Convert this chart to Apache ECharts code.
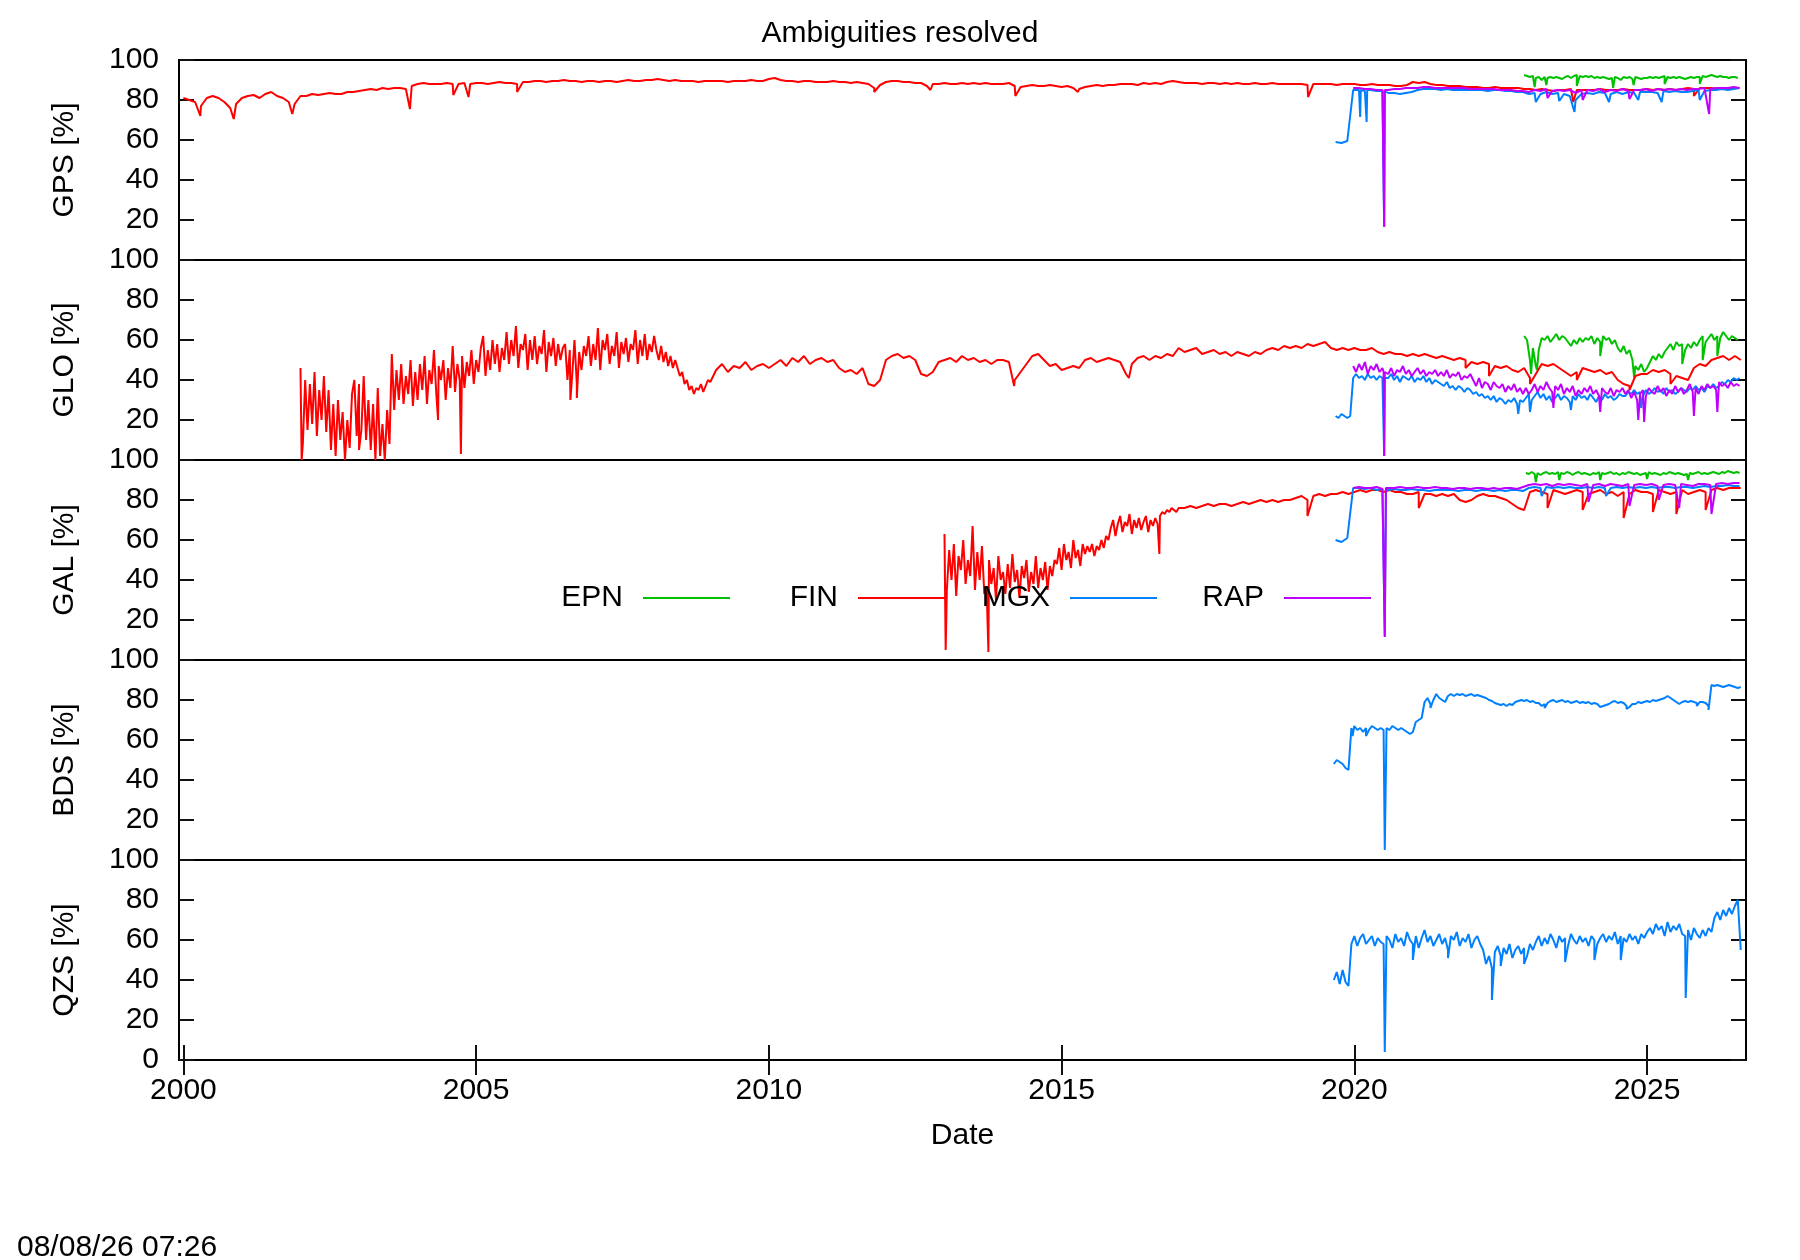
<!DOCTYPE html>
<html>
<head>
<meta charset="utf-8">
<title>Ambiguities resolved</title>
<script src="https://cdn.jsdelivr.net/npm/echarts@6.0.0/dist/echarts.min.js"></script>
<style>
  html, body { margin: 0; padding: 0; background: #fff; }
  #chart { width: 1800px; height: 1260px; }
</style>
</head>
<body>
<div id="chart"></div>
<script>
// panels / centers / ticks
const panels = ['GPS', 'GLO', 'GAL', 'BDS', 'QZS'];
const centers = ['EPN', 'FIN', 'MGX', 'RAP'];
const colors = { EPN: '#00c000', FIN: '#ff0000', MGX: '#0080ff', RAP: '#c000ff' };
const yearTicks = [2000, 2005, 2010, 2015, 2020, 2025];
const stamp = '08/08/26 07:26';

// every series: [first year, step in years] + values (%) + single-day dips [year, %]
// ---- GPS
const gpsEpnT = [2022.90, 0.05];
const gpsEpn = [
  92.5, 92, 91.5, 92, 91, 91.5, 90, 91.5, 91, 91.5,
  91, 91.5, 91, 90.5, 91.5, 92, 91, 92, 92.5, 92,
  91.5, 92, 91.5, 92, 91, 91.5, 91, 91.5, 91, 90.5,
  91, 91.5, 91, 90, 91.5, 91, 91.5, 90.5, 91.5, 91,
  90.5, 91, 91, 91.5, 91, 91.5, 91, 91.5, 92, 91.5,
  91, 91.5, 91, 91.5, 91, 90.5, 91, 91.5, 91, 91.5,
  91.5, 92, 91.5, 92, 92.5, 92, 91.5, 92, 91.5, 91.5, 91, 91.5, 91.5, 91
];
const gpsEpnDips = [[2023.08, 86.5], [2023.28, 87.5], [2023.8, 87], [2024.42, 86], [2024.77, 87.5], [2025.3, 88], [2025.9, 88]];

const gpsFinT = [2000.0, 0.1];
const gpsFin = [
  81, 80, 79, 77, 81, 82, 81, 79, 76, 78,
  81, 82, 82.5, 81, 83, 84, 82, 81, 79, 78,
  82, 82, 83, 82.5, 83, 83.5, 83, 83, 84, 84,
  84.5, 85, 85.5, 85, 86, 85.5, 86, 86, 85.5, 87,
  88, 88.5, 88, 88, 88, 88.5, 88, 88, 88.5, 88,
  88.5, 88.5, 88, 88.5, 89, 88.5, 88.5, 88, 89, 89,
  89.5, 89.5, 89, 89.5, 89.5, 90, 89.5, 89.5, 89, 89.5,
  89.5, 89, 89.5, 89.5, 89, 89.5, 90, 89.5, 89.5, 90,
  90, 90.5, 90, 89.5, 90, 89.5, 89.5, 89.5, 89, 89.5,
  89.5, 89.5, 89.5, 89, 89.5, 89.5, 89.5, 90, 89.5, 89.5,
  90.5, 91, 90, 89.5, 89.5, 89, 89.5, 89.5, 89, 89,
  89, 89.5, 89, 89, 88.5, 89, 88.5, 88, 86, 87.5,
  89, 89.5, 89.5, 89, 89, 88.5, 88.5, 87, 88, 88,
  88.5, 88, 88, 88.5, 88, 88.5, 88, 88.5, 88, 88,
  88, 88.5, 87, 86.5, 87, 87.5, 87, 87, 87.5, 87,
  86.5, 87, 86, 85.5, 86.5, 87, 87.5, 87, 87.5, 87.5,
  88, 88, 88, 87.5, 88.5, 88, 88.5, 88, 89, 89.5,
  89, 88.5, 88.5, 88.5, 88, 88.5, 88.5, 88, 88.5, 88,
  88.5, 88, 88, 88.5, 88, 88, 88.5, 88, 88, 88,
  88, 88, 87.5, 88, 88, 88, 88, 87.5, 88, 88,
  88, 87.5, 87.5, 88, 87.5, 87.5, 87.5, 87, 87, 87.5,
  89, 88.5, 89, 88, 87.5, 87.5, 87, 87, 87, 86.5,
  86.5, 86.5, 86, 86, 86.5, 86, 86, 86, 86, 85.5,
  85.5, 85, 85.5, 85, 84.5, 85, 85, 85.5, 85, 85,
  85, 85, 85.5, 85, 85, 85, 85.5, 85, 85, 85,
  85.5, 85, 85.5, 85, 85.5, 85, 85.5, 86, 85.5, 86,
  86, 86, 85.5, 86, 86, 86
];
const gpsFinDips = [[2000.29, 72], [2000.86, 70.5], [2001.86, 73], [2003.87, 75.5], [2004.61, 82.5], [2004.87, 81.5],
  [2005.7, 84], [2011.8, 84], [2012.76, 85], [2014.21, 82], [2015.28, 84], [2019.21, 81.5], [2023.74, 79], [2025.8, 82]];

const gpsMgxT = [2019.68, 0.1];
const gpsMgx = [
  59, 58.5, 59.5, 85, 85, 84.5, 85, 84.5, 84.5, 83.5,
  83.5, 83, 83.5, 84, 85, 85.5, 85.5, 85.5, 85, 85.5,
  85, 85, 85, 85, 85, 85, 84.5, 85, 85, 84.5,
  84.5, 84, 84, 83, 83.5, 83, 84, 83, 83.5, 83,
  82, 80, 83, 83.5, 83, 84, 83.5, 83, 84, 83,
  84, 83.5, 84, 84, 84, 83.5, 84.5, 84, 84.5, 84,
  84, 84.5, 85, 84.5, 85, 85, 85.5, 85, 85.5, 86
];
const gpsMgxDips = [[2020.09, 85], [2020.10, 71.5], [2020.11, 85], [2020.20, 85], [2020.21, 69], [2020.22, 85],
  [2020.50, 84.5], [2020.51, 17], [2020.52, 84.5], [2023.1, 79], [2023.5, 79.5], [2023.76, 74], [2024.35, 79],
  [2024.85, 80], [2025.25, 79], [2025.9, 80]];

const gpsRapT = [2019.98, 0.1];
const gpsRap = [
  86, 86, 85.5, 85.5, 85, 85, 85, 85.5, 85.5, 86,
  86, 86, 86.5, 86.5, 86, 86, 86, 86, 86, 86,
  85.5, 85.5, 85.5, 85.5, 85.5, 85, 85, 85, 84.5, 84.5,
  84, 85, 84.5, 85.5, 84.5, 85, 84.5, 85, 83.5, 85,
  85, 84.5, 85.5, 84, 85, 84.5, 85.5, 84.5, 85, 85,
  85.5, 84.5, 85.5, 85, 85.5, 85, 85.5, 85, 85.5, 85.5,
  86, 85.5, 86, 86, 86, 86.5, 86
];
const gpsRapDips = [[2020.50, 85], [2020.51, 16.5], [2020.52, 85], [2023.3, 81], [2023.9, 80], [2024.7, 80.5], [2026.06, 73]];

// ---- GLO
const gloEpnT = [2022.90, 0.05];
const gloEpn = [
  62, 60, 50, 56, 47, 55, 61, 60, 62, 59,
  61, 63, 60, 62, 61, 59, 57, 60, 58, 61,
  59, 61, 60, 62, 58, 61, 59, 62, 60, 61,
  58, 60, 56, 54, 57, 53, 55, 50, 47, 45,
  48, 44, 46, 49, 52, 50, 53, 51, 54, 56,
  58, 55, 59, 57, 58, 55, 58, 56, 59, 57,
  60, 62, 59, 61, 63, 60, 62, 61, 64, 62,
  60, 62, 61, 60
];
const gloEpnDips = [[2023.02, 43], [2023.12, 45], [2024.2, 52], [2024.78, 41], [2025.6, 48], [2025.95, 50], [2026.2, 52]];

const gloFinAT = [2002.0, 0.04];
const gloFinA = [
  46, 8, 40, 15, 38, 18, 44, 12, 35, 20, 42, 14,
  35, 5, 28, 2, 30, 10, 24, 0, 20, 6, 33,
  40, 12, 38, 15, 42, 10, 30,
  5, 28, 0, 36, 2, 18, 0, 25, 8,
  53, 25, 45, 30, 48, 28, 42, 33, 50, 27, 44,
  30, 48, 35, 52, 28, 45, 38, 55, 33, 47, 40, 50, 30, 46, 36, 57, 34, 48, 40, 52, 36, 49, 42, 55, 38, 50, 44, 56,
  62, 42, 55, 45, 60, 48, 58, 44, 56,
  50, 64, 48, 60, 52, 67, 46, 58, 55, 63, 45, 60, 50, 62, 48, 57, 53, 65, 44, 59, 52, 61, 47, 58, 50, 56,
  58, 40, 55, 42, 60, 38, 54, 45, 57,
  52, 62, 47, 58, 50, 66, 45, 60, 55, 63, 48, 57, 52, 64, 46, 59, 53, 61, 49, 58, 55, 65, 48, 60, 52, 63, 50, 58, 54, 62,
  55, 50, 57, 49, 54, 47, 52, 46, 50,
  46, 42, 44, 38, 40, 35, 37, 33, 36,
  35, 38, 34, 37, 40, 39
];
const gloFinBT = [2009.1, 0.1];
const gloFinB = [
  45, 48, 44, 47, 46, 49, 45, 47, 48,
  46, 48, 50, 47, 51, 49, 52, 48, 50, 51,
  49, 50, 46, 44, 45, 43, 46, 38, 37, 40,
  50, 52, 53, 51, 52, 50, 43, 42, 44, 49,
  50, 51, 49, 52, 50, 51, 49, 50, 48, 50,
  50, 49, 40, 44, 48, 52, 53, 50, 47, 48,
  45, 46, 47, 46, 50, 51, 49, 50, 51, 50,
  49, 43, 48, 51, 52, 50, 52, 51, 53, 52,
  56, 54, 55, 56, 53, 54, 55, 53, 54, 52,
  54, 53, 52, 54, 53, 55, 56, 55, 57, 56,
  57, 56, 58, 57, 58, 59, 56, 55, 56, 55,
  56, 55, 55, 56, 54, 53, 54, 53, 53, 52,
  53, 52, 53, 52, 51, 52, 51, 50, 51, 50,
  49, 48, 49, 48, 47, 46, 47, 45, 44, 46,
  41, 43, 48, 47, 48, 46, 44, 42, 44, 46,
  45, 44, 45, 43, 44, 40, 38, 37, 42, 43,
  43, 45, 44, 45, 43, 42, 41, 40, 46, 48,
  47, 50, 51, 52, 50, 52, 50
];
const gloFinDips = [[2002.02, 0], [2003.0, 5], [2004.35, 20], [2004.74, 3], [2006.61, 30], [2006.72, 31], [2011.8, 36],
  [2014.19, 37], [2016.15, 41], [2021.9, 46], [2022.3, 42], [2023.0, 38], [2023.8, 40], [2024.7, 35], [2025.4, 38]];

const gloMgxT = [2019.68, 0.05];
const gloMgx = [
  22, 21, 23, 22, 21, 22,
  41, 43, 41, 42, 40, 43, 41, 42, 40, 42, 41,
  42, 41, 43, 40, 42, 39, 42, 41, 40, 42, 39, 41, 40, 42, 39, 41, 38, 40, 39,
  38, 37, 39, 36, 37, 35, 37, 36, 34, 36, 35,
  33, 34, 32, 33, 31, 32, 30, 32, 29, 31, 30, 28, 30, 29, 31, 28, 30, 29,
  31, 33, 30, 32, 34, 31, 33, 30, 32, 29, 31, 33, 30, 32, 31, 29, 32, 30, 33, 31, 32, 30, 33, 31, 29, 32, 30, 33, 31, 32, 30, 31, 33, 32,
  32, 34, 33, 35, 33, 34, 32, 35, 33, 34, 36, 34, 35, 33, 36, 34, 35, 33, 34, 36,
  35, 34, 36, 35, 37, 35, 36, 34, 37, 36, 38, 36, 37, 39, 38, 40, 39, 41, 40, 41
];
const gloMgxDips = [[2020.50, 41], [2020.51, 2], [2020.52, 41], [2022.8, 23], [2023.0, 24], [2023.7, 25], [2024.9, 26]];

const gloRapT = [2019.98, 0.05];
const gloRap = [
  47, 44, 48, 45, 49, 43, 47, 45, 48, 44, 46,
  45, 43, 46, 42, 45, 44, 47, 43, 45, 42, 44, 46, 43, 45, 42, 44, 43, 45, 42,
  44, 42, 45, 41, 43, 42, 44, 40, 42, 41, 43,
  40, 37, 41, 36, 39, 38, 35, 39, 37, 36, 38, 34, 37, 35, 38, 34, 36, 33,
  36, 33, 35, 38, 34, 37, 35, 39, 36, 34, 37, 35, 38, 33, 36, 34, 37, 32, 35, 33, 36, 34, 37, 33, 35, 32, 36, 34, 33, 36, 32, 35, 34, 36,
  33, 35, 31, 34, 30, 33, 35, 32, 36, 34, 33, 37, 34, 36, 32, 35, 33, 37, 34, 36,
  33, 35, 38, 34, 36, 33, 37, 35, 38, 36, 37, 35, 39, 37, 38, 36, 39, 37, 38, 37
];
const gloRapDips = [[2020.50, 44], [2020.51, 2], [2020.52, 44], [2023.4, 26], [2024.2, 24], [2024.85, 20], [2024.95, 19],
  [2025.8, 22], [2026.2, 24]];

// ---- GAL
const galEpnT = [2022.93, 0.05];
const galEpn = [
  93.5, 93, 94, 93, 93.5, 92.5, 93.5, 94, 93, 93.5,
  93, 94, 93.5, 93, 94, 93.5, 92.5, 93.5, 94, 93,
  93.5, 93, 92.5, 93.5, 93, 94, 93.5, 93, 93.5, 94,
  93, 93.5, 92.5, 93.5, 93, 94, 93.5, 93, 93.5, 92.5,
  93, 93.5, 94, 93, 93.5, 93, 92.5, 93.5, 93, 94,
  93.5, 93, 93.5, 93, 92.5, 93, 93.5, 93, 93.5, 94,
  93, 93.5, 93, 93.5, 94, 93.5, 93, 94, 93.5, 94.5,
  94, 93.5, 94, 93.5
];
const galEpnDips = [[2023.1, 89], [2023.5, 90], [2024.2, 90], [2025.0, 90.5], [2025.7, 90]];

const galFinAT = [2013.0, 0.04];
const galFinA = [
  63, 35, 55, 40, 58, 32, 52, 45, 60, 38, 50, 42, 67, 35, 54, 40, 57, 33,
  35, 50, 38, 46, 30, 52, 40, 44, 33, 48, 36, 53, 39, 45, 31, 47, 41, 50, 34, 44, 38, 52, 36, 46, 40, 49, 35, 47, 42, 50,
  48, 56, 45, 58, 50, 54, 46, 60, 51, 55, 47, 58, 53, 57,
  54, 58, 52, 57, 55, 60, 56, 62, 60,
  66, 70, 62, 68, 72, 64, 69, 67, 73, 63, 70, 66, 71, 65, 69, 72, 64, 70, 67, 71, 68,
  72, 74, 73, 75, 74, 76, 75, 74, 76
];
const galFinBT = [2017.1, 0.1];
const galFinB = [
  76, 77, 76, 77, 78, 77, 78, 78, 77,
  78, 79, 78, 79, 80, 79, 80, 79, 80, 80,
  81, 82, 80, 82, 83, 82, 83, 83, 84, 83,
  84, 85, 84, 85, 85, 84, 85, 84, 84, 83,
  83, 84, 83, 83, 82, 83, 82, 83, 80, 79,
  80, 82, 83, 82, 82, 81, 80, 78, 76, 75,
  84, 85, 84, 83, 85, 84, 83, 84, 85, 84,
  83, 84, 85, 83, 84, 82, 84, 83, 85, 84,
  84, 83, 85, 84, 83, 84, 85, 83, 84, 85,
  84, 85, 86, 85, 86, 86, 86
];
const galFinDips = [[2013.02, 5], [2013.75, 4], [2016.67, 53], [2019.2, 72], [2021.1, 76], [2023.3, 76], [2023.9, 75],
  [2024.6, 71], [2025.1, 74], [2025.5, 73], [2026.0, 75]];

const galMgxT = [2019.68, 0.1];
const galMgx = [
  60, 59, 61, 86, 86, 85.5, 86, 85, 85.5, 85,
  85.5, 85, 85, 85.5, 85, 85, 84.5, 85, 85, 85,
  85, 84.5, 85, 85, 84.5, 85, 85, 84.5, 85, 84.5,
  85, 85, 84.5, 86, 86.5, 86, 86.5, 86, 86.5, 86,
  86.5, 86, 86, 86.5, 86, 86.5, 86, 86, 86.5, 86,
  86.5, 86, 86.5, 86, 86.5, 86, 86.5, 86.5, 86, 86.5,
  86.5, 86, 86.5, 87, 86.5, 87, 87, 87.5, 87, 87
];
const galMgxDips = [[2019.8, 58], [2020.50, 86], [2020.52, 12], [2020.54, 86], [2023.2, 82], [2024.3, 82]];

const galRapT = [2019.98, 0.1];
const galRap = [
  86, 86.5, 86, 86, 86.5, 85.5, 86, 86, 86.5, 86,
  86, 86.5, 86, 86, 86.5, 86, 86, 85.5, 86, 86,
  85.5, 86, 86, 85.5, 86, 85.5, 86, 86, 85.5, 86.5,
  87.5, 88, 87.5, 88, 87, 88, 87.5, 88, 87.5, 87,
  88, 87.5, 88, 87, 88, 87.5, 87, 88, 87.5, 88,
  87.5, 88, 87, 87.5, 88, 87.5, 88, 87.5, 87, 88,
  88, 87.5, 88, 88.5, 88, 88.5, 88.5
];
const galRapDips = [[2020.50, 86], [2020.52, 11.5], [2020.54, 86], [2024.0, 79], [2024.7, 77], [2025.2, 80], [2025.55, 76], [2026.1, 73]];

// ---- BDS / QZS (MGX only)
const bdsMgxT = [2019.65, 0.05];
const bdsMgx = [
  48, 50, 49, 48, 46, 45,
  66, 67, 65, 66, 64, 66, 65, 67, 66, 65, 66,
  65, 66, 65, 67, 66, 65, 66, 65, 64, 63,
  64, 69, 70, 71,
  79, 81, 78, 80, 83, 81, 80, 79,
  82, 83, 82, 83, 82.5, 83, 82, 82.5, 83, 82, 82.5, 82, 81.5,
  81, 80, 79.5, 78.5, 78, 77.5, 78, 77, 78, 77.5, 79,
  79.5, 80, 79.5, 80, 79, 79.5, 78.5,
  78.5, 77, 78, 78.5,
  79.5, 80, 79, 79.5, 80, 79, 79.5, 78.5, 79, 79.5, 78.5, 79, 78.5, 79, 78, 78.5, 78,
  76.5, 77, 77.5, 78,
  79, 79.5, 78.5, 79, 78.5, 77, 76.5, 78,
  78, 79, 78.5, 79, 79.5, 79, 80, 79.5, 80, 80.5, 81,
  82, 81, 80, 79, 78,
  79, 79.5, 79, 79.5, 79, 78.5, 79, 79, 78.5, 77,
  87.5, 87, 87.5, 87, 86.5, 87, 87.5, 87, 86.5, 86, 86.5
];
const bdsMgxDips = [[2019.97, 62], [2020.2, 62], [2020.52, 5], [2021.3, 76], [2023.25, 76], [2024.65, 75.5], [2025.85, 77], [2026.05, 75]];

const qzsMgxT = [2019.65, 0.05];
const qzsMgx = [
  40, 44, 38, 45, 39, 37,
  58, 62, 57, 61, 63, 58, 60, 62, 57, 61, 59,
  58, 62, 60, 56, 63, 59, 61, 57, 64, 60, 58, 62, 56, 61, 65, 59, 62, 57, 60, 63, 58, 61, 55, 62, 60, 64, 57, 61, 59, 63, 56, 60, 62, 58,
  55, 48, 52, 46,
  54, 57, 52, 56, 53, 58, 51, 55, 57, 53, 56, 52, 58, 55,
  59, 62, 57, 61, 58, 63, 60, 56, 62, 59, 61, 57, 63, 60, 58, 62, 59, 61, 57, 62, 60, 58,
  61, 63, 59, 62, 60, 64, 58, 62, 61, 59, 63, 60, 62, 58, 63, 61, 64,
  66, 63, 68, 65, 67, 62, 69, 64, 67, 65, 68, 63,
  62, 65, 60, 66, 63, 61, 65, 62, 66, 64,
  71, 74, 70, 75, 72, 76, 73, 77, 80,
  55
];
const qzsMgxDips = [[2020.52, 4], [2021.0, 50], [2021.6, 51], [2022.35, 30], [2022.5, 47], [2022.9, 48], [2023.6, 49],
  [2024.1, 50], [2024.55, 50], [2025.66, 31]];

// 拼接成 [year, value]
function build(parts, dips) {
  const pts = [];
  parts.forEach(([t, vals]) => {
    vals.forEach((v, i) => pts.push([+(t[0] + i * t[1]).toFixed(3), v]));
  });
  (dips || []).forEach(d => pts.push(d));
  pts.sort((a, b) => a[0] - b[0]);
  return pts;
}

// [panel, center, data]
const lines = [
  [0, 'EPN', build([[gpsEpnT, gpsEpn]], gpsEpnDips)],
  [0, 'FIN', build([[gpsFinT, gpsFin]], gpsFinDips)],
  [0, 'MGX', build([[gpsMgxT, gpsMgx]], gpsMgxDips)],
  [0, 'RAP', build([[gpsRapT, gpsRap]], gpsRapDips)],
  [1, 'EPN', build([[gloEpnT, gloEpn]], gloEpnDips)],
  [1, 'FIN', build([[gloFinAT, gloFinA], [gloFinBT, gloFinB]], gloFinDips)],
  [1, 'MGX', build([[gloMgxT, gloMgx]], gloMgxDips)],
  [1, 'RAP', build([[gloRapT, gloRap]], gloRapDips)],
  [2, 'EPN', build([[galEpnT, galEpn]], galEpnDips)],
  [2, 'FIN', build([[galFinAT, galFinA], [galFinBT, galFinB]], galFinDips)],
  [2, 'MGX', build([[galMgxT, galMgx]], galMgxDips)],
  [2, 'RAP', build([[galRapT, galRap]], galRapDips)],
  [3, 'MGX', build([[bdsMgxT, bdsMgx]], bdsMgxDips)],
  [4, 'MGX', build([[qzsMgxT, qzsMgx]], qzsMgxDips)]
];

var font = 'Liberation Sans, Arial, Helvetica, sans-serif';
var fs = 30;
var tickStyle = { color: '#111', width: 2 };
var xMin = 1999.925, xMax = 2026.69;

var myChart = echarts.init(document.getElementById('chart'));

var xAxes = panels.map((p, i) => ({
  type: 'value',
  gridIndex: i,
  min: xMin,
  max: xMax,
  show: i === 4,
  position: 'bottom',
  axisLine: { show: false },
  axisTick: { inside: true, length: 15, customValues: yearTicks, lineStyle: tickStyle },
  axisLabel: { customValues: yearTicks, fontSize: fs, color: '#000', margin: 16, formatter: v => String(v) },
  splitLine: { show: false },
  name: i === 4 ? 'Date' : '',
  nameLocation: 'middle',
  nameGap: 61,
  nameTextStyle: { fontSize: fs, color: '#000' }
}));
// 底部面板顶边的镜像刻度
xAxes.push({
  type: 'value', gridIndex: 4, min: xMin, max: xMax, position: 'top',
  axisLine: { show: false },
  axisTick: { inside: true, length: 15, customValues: yearTicks, lineStyle: tickStyle },
  axisLabel: { show: false },
  splitLine: { show: false }
});

var yAxes = [];
panels.forEach((p, i) => {
  yAxes.push({
    type: 'value', gridIndex: i, min: 0, max: 100, interval: 20, position: 'left',
    axisLine: { show: false },
    axisTick: { inside: true, length: 15, lineStyle: tickStyle },
    axisLabel: { fontSize: fs, color: '#000', margin: 20, showMinLabel: i === 4, showMaxLabel: true },
    splitLine: { show: false },
    name: p + ' [%]',
    nameLocation: 'middle',
    nameGap: 99,
    nameTextStyle: { fontSize: fs, color: '#000' }
  });
  yAxes.push({
    type: 'value', gridIndex: i, min: 0, max: 100, interval: 20, position: 'right',
    axisLine: { show: false },
    axisTick: { inside: true, length: 15, lineStyle: tickStyle },
    axisLabel: { show: false },
    splitLine: { show: false }
  });
});

// 图例：文字在左，线段在右
var legendEnd = { EPN: 730, FIN: 945, MGX: 1157, RAP: 1371 };
var legends = centers.map(c => ({
  data: [c],
  right: 1800 - legendEnd[c],
  top: 583,
  align: 'right',
  padding: 0,
  icon: 'rect',
  itemWidth: 87,
  itemHeight: 2,
  selectedMode: false,
  textStyle: { fontSize: fs, color: '#000', fontFamily: font, padding: [0, 15, 0, 0] }
}));

var option = {
  animation: false,
  backgroundColor: '#fff',
  textStyle: { fontFamily: font, color: '#000' },
  title: {
    text: 'Ambiguities resolved',
    left: 'center',
    top: 14,
    textStyle: { fontSize: fs, fontWeight: 'normal', color: '#000', fontFamily: font }
  },
  legend: legends,
  grid: panels.map((p, i) => ({
    left: 179, right: 54, top: 60 + i * 200, height: 200,
    show: true, borderColor: '#000', borderWidth: 2, backgroundColor: 'transparent'
  })),
  xAxis: xAxes,
  yAxis: yAxes,
  series: lines.map(([panel, name, data]) => ({
    type: 'line',
    name: name,
    xAxisIndex: panel,
    yAxisIndex: panel * 2,
    data: data,
    symbol: 'none',
    silent: true,
    color: colors[name],
    lineStyle: { width: 2, color: colors[name] }
  })),
  graphic: [{
    type: 'text',
    left: 17,
    top: 1233,
    style: { text: stamp, fontSize: fs, fontFamily: font, fill: '#000' }
  }]
};

myChart.setOption(option);
window.addEventListener('resize', function () {
  myChart.resize();
});
</script>
</body>
</html>
